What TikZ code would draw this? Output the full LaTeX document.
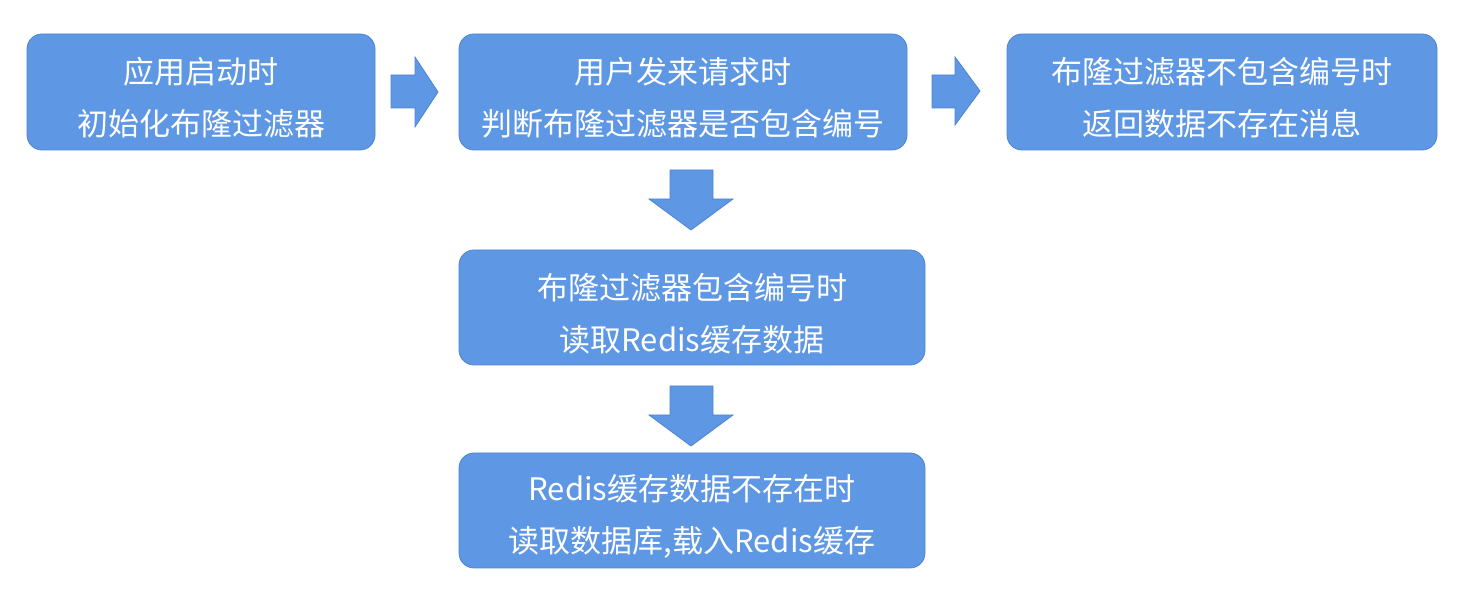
\documentclass[tikz,border=0pt]{standalone}
\usepackage{fontspec}
\setmainfont{Noto Sans CJK SC}
\definecolor{boxblue}{HTML}{5E97E4}
\definecolor{edgeblue}{HTML}{4E84D0}
\tikzset{
  stepbox/.style={draw=edgeblue, fill=boxblue, rounded corners=7.5pt, minimum height=58pt, inner sep=0pt},
  steptext/.style={text=white, align=center, font=\fontsize{15.5pt}{26pt}\selectfont, inner sep=0pt, yshift=-3pt},
  bigarrow/.style={draw=edgeblue, fill=boxblue, line width=0.4pt}
}

\begin{document}
\begin{tikzpicture}[x=0.5pt, y=-0.5pt]
\useasboundingbox (0,0) rectangle (1457,608);
\node[stepbox, minimum width=174pt] (start) at (201,92) {};
\node[steptext] (start text) at (start.center) {应用启动时\\初始化布隆过滤器};
\node[stepbox, minimum width=224pt] (check) at (683,92) {};
\node[steptext] (check text) at (check.center) {用户发来请求时\\判断布隆过滤器是否包含编号};
\node[stepbox, minimum width=215pt] (miss) at (1222,92) {};
\node[steptext] (miss text) at (miss.center) {布隆过滤器不包含编号时\\返回数据不存在消息};
\node[stepbox, minimum width=233pt, minimum height=57.5pt] (cache) at (692,307.5) {};
\node[steptext] (cache text) at (cache.center) {布隆过滤器包含编号时\\读取Redis缓存数据};
\node[stepbox, minimum width=233pt, minimum height=57.5pt] (load) at (692,510.5) {};
\node[steptext] (load text) at (load.center) {Redis缓存数据不存在时\\读取数据库,载入Redis缓存};
% block arrows
\draw[bigarrow] (391,75) -- (415,75) -- (415,57) -- (438,92) -- (415,127) -- (415,108) -- (391,108) -- cycle;
\draw[bigarrow] (932,75) -- (955,75) -- (955,57) -- (980,91) -- (955,125) -- (955,108) -- (932,108) -- cycle;
\draw[bigarrow] (670,170) -- (713,170) -- (713,199) -- (733,199) -- (691,230) -- (649,199) -- (670,199) -- cycle;
\draw[bigarrow] (670,386) -- (713,386) -- (713,415) -- (733,415) -- (691,446) -- (649,415) -- (670,415) -- cycle;
\end{tikzpicture}
\end{document}
